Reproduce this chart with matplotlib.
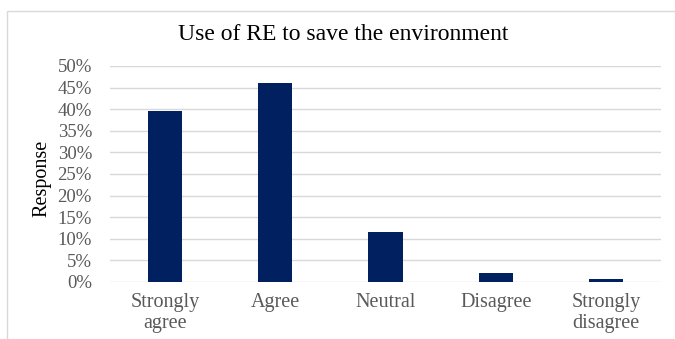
import matplotlib
matplotlib.use("Agg")
import matplotlib.pyplot as plt
from matplotlib.patches import Rectangle
from matplotlib.ticker import FuncFormatter

categories = ["Strongly\nagree", "Agree", "Neutral", "Disagree", "Strongly\ndisagree"]
values = [39.5, 46.0, 11.5, 2.1, 0.6]
yticks = [0, 5, 10, 15, 20, 25, 30, 35, 40, 45, 50]

plt.rcParams['font.family'] = ['Liberation Serif', 'DejaVu Serif']

W, H = 675, 339
fig = plt.figure(figsize=(W/100, H/100), dpi=100)
ax = fig.add_axes([110/W, 1-282/H, (661-110)/W, (282-66)/H])

x = list(range(len(categories)))
ax.bar(x, values, width=0.31, color="#002060", zorder=3)
ax.set_xlim(-0.5, len(categories)-0.5)
ax.set_ylim(0, 50)
ax.set_yticks(yticks)
ax.yaxis.set_major_formatter(FuncFormatter(lambda v, p: f"{v:.0f}%"))
ax.grid(axis="y", color="#d9d9d9", linewidth=1, zorder=0)
for s in ax.spines.values():
    s.set_visible(False)
ax.tick_params(axis="both", length=0, labelcolor="#595959")
ax.tick_params(axis="y", pad=13, labelsize=13.5)
ax.tick_params(axis="x", pad=8, labelsize=14.5)
ax.set_xticks(x)
ax.set_xticklabels(categories, linespacing=1.15)
ax.set_ylabel("Response", fontsize=14.5, color="black", labelpad=4)
ax.yaxis.set_label_coords((51 - 110) / (661 - 110), 0.48)

fig.text(343/W, 1-34.5/H, "Use of RE to save the environment", ha="center", va="center",
         fontsize=17, color="black")

fig.patches.append(Rectangle((7/W, -0.1), 1.2, 1-11/H+0.1, transform=fig.transFigure,
                             fill=False, edgecolor="#d9d9d9", linewidth=1))

fig.savefig("out.png", dpi=100)
